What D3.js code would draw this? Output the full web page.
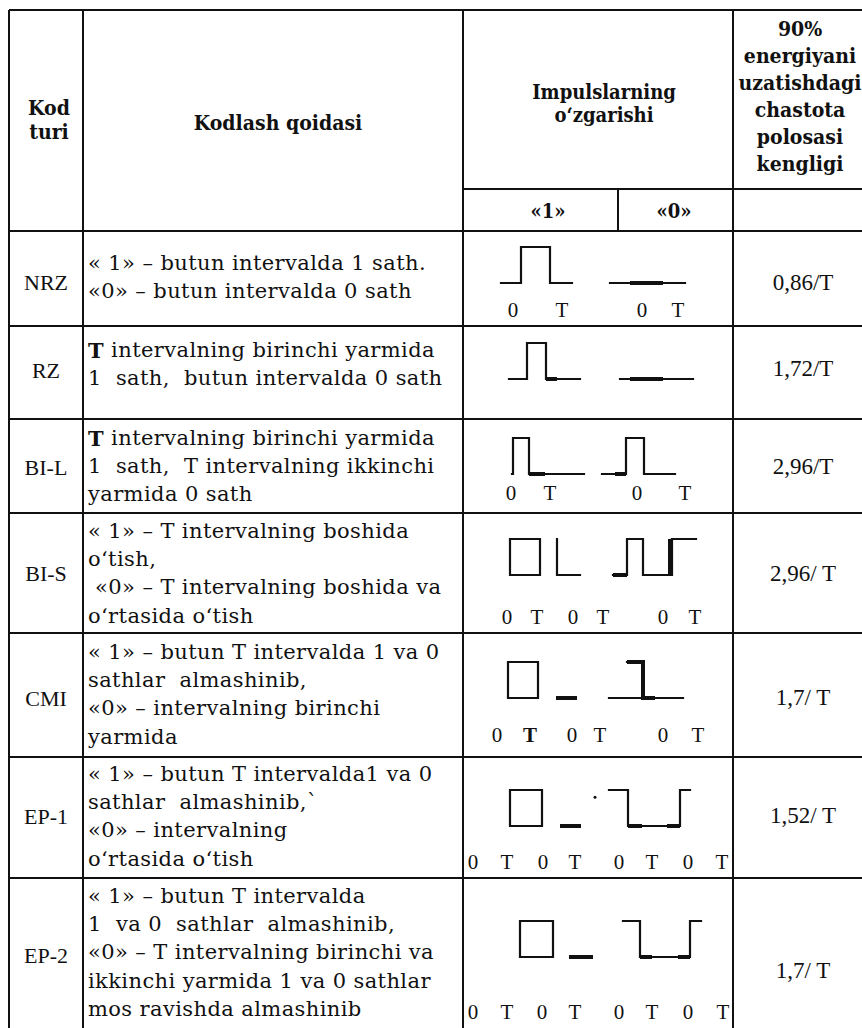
<!DOCTYPE html>
<html><head><meta charset="utf-8">
<script src="https://cdn.jsdelivr.net/npm/d3@7"></script>
<style>body{margin:0;background:#fff}</style>
</head><body>
<svg id="c" width="862" height="1028"></svg>
<script>
// ================= DATA =================
const codeTypes = ["NRZ", "RZ", "BI-L", "BI-S", "CMI", "EP-1", "EP-2"];
const bandwidths = ["0,86/T", "1,72/T", "2,96/T", "2,96/ T", "1,7/ T", "1,52/ T", "1,7/ T"];
const headerKod = ["Kod", "turi"];
const headerRule = ["Kodlash qoidasi"];
const headerImpulse = ["Impulslarning", "o‘zgarishi"];
const headerBand = ["90%", "energiyani", "uzatishdagi", "chastota", "polosasi", "kengligi"];
const bitLabels = ["«1»", "«0»"];
const rules = [
  ["« 1» – butun intervalda 1 sath.", "«0» – butun intervalda 0 sath"],
  ["T intervalning birinchi yarmida", "1  sath,  butun intervalda 0 sath"],
  ["T intervalning birinchi yarmida", "1  sath,  T intervalning ikkinchi", "yarmida 0 sath"],
  ["« 1» – T intervalning boshida", "o‘tish,", " «0» – T intervalning boshida va", "o‘rtasida o‘tish"],
  ["« 1» – butun T intervalda 1 va 0", "sathlar  almashinib,", "«0» – intervalning birinchi", "yarmida"],
  ["« 1» – butun T intervalda1 va 0", "sathlar  almashinib,`", "«0» – intervalning", "o‘rtasida o‘tish"],
  ["« 1» – butun T intervalda", "1  va 0  sathlar  almashinib,", "«0» – T intervalning birinchi va", "ikkinchi yarmida 1 va 0 sathlar", "mos ravishda almashinib"]
];
const boldLeadT = [false, true, true, false, false, false, false];
// waveform polylines: [time, level]
const waveThin = [
  [[[3.8,0],[5.8,0],[5.8,1],[8.7,1],[8.7,0],[10.9,0]], [[14.7,0],[22.2,0]]],
  [[[4.6,0],[6.4,0],[6.4,1],[8.3,1],[8.3,0],[11.7,0]], [[15.7,0],[23.0,0]]],
  [[[4.9,0],[5.0,0],[5.0,1],[6.6,1],[6.6,0],[12.1,0]], [[13.9,0],[16.3,0],[16.3,1],[18.1,1],[18.1,0],[21.2,0]]],
  [[[4.7,0],[4.7,1],[7.7,1],[7.7,0],[4.7,0]], [[9.4,1],[9.4,0],[11.7,0]], [[15.0,0],[16.4,0],[16.4,1],[18.0,1],[18.0,0],[20.9,0],[20.9,1],[23.3,1]]],
  [[[4.5,0],[4.5,1],[7.5,1],[7.5,0],[4.5,0]], [[14.6,0],[22.0,0]], [[16.4,1],[18.0,1],[18.0,0]]],
  [[[4.7,0],[4.7,1],[7.9,1],[7.9,0],[4.7,0]], [[14.6,1],[16.5,1],[16.5,0],[21.7,0],[21.7,1],[22.7,1]]],
  [[[5.7,0],[5.7,1],[9.0,1],[9.0,0],[5.7,0]], [[16.0,1],[17.7,1],[17.7,0],[22.7,0],[22.7,1],[23.8,1]]]
];
const waveThick = [
  [[[16.7,0],[20.0,0]]],
  [[[8.3,0],[9.4,0]], [[16.7,0],[20.0,0]]],
  [[[6.6,0],[8.2,0]], [[15.2,0],[16.3,0]]],
  [[[15.0,0],[16.4,0]], [[20.7,0],[20.7,1]]],
  [[[9.3,0],[11.4,0]], [[16.4,1],[18.0,1],[18.0,0],[19.2,0]]],
  [[[9.7,0],[11.8,0]], [[16.5,0],[17.9,0]], [[20.4,0],[21.7,0]]],
  [[[10.6,0],[13.0,0]], [[17.7,0],[18.9,0]], [[21.5,0],[22.7,0]]]
];
const waveDots = [[], [], [], [], [], [[13.2,0.8]], []];
const tickLabels = [
  [["0",5.0],["T",9.9],["0",17.9],["T",21.5]],
  [],
  [["0",4.8],["T",8.7],["0",17.4],["T",22.2]],
  [["0",4.4],["T",7.4],["0",11.0],["T",14.0],["0",20.0],["T",23.2]],
  [["0",3.4],["T",6.7],["0",10.9],["T",13.7],["0",20.0],["T",23.5]],
  [["0",1.0],["T",4.4],["0",8.0],["T",11.2],["0",15.6],["T",18.9],["0",22.5],["T",25.9]],
  [["0",1.0],["T",4.4],["0",7.9],["T",11.2],["0",15.6],["T",18.9],["0",22.5],["T",26.0]]
];
const boldTicks = [[], [], [], [], [1], [], []];

// ================= LAYOUT =================
const svg = d3.select("#c");
const ink = "#111";
const X = {left: 9, c1: 83, c2: 463, c3: 733, split: 618, right: 862};
const Y = {top: 10, sub: 189, head: 231};
const rowEdges = [231, 326, 419, 513, 633, 757, 878, 1028];
const baselines = [283, 379, 474, 575, 698, 826, 957];
const tickDy = [27, 0, 19, 42, 37, 36, 55];
const ruleY0 = [263, 350, 438, 531, 652, 774, 896];
const codeY = [282, 370, 467, 573, 698, 816, 955];
const bandY = [282, 368, 466, 573, 697, 815, 970];
const amp = 36;

const serif = "'Liberation Serif','Times New Roman',serif";
const headFont = "'DejaVu Serif Condensed','DejaVu Serif',serif";
const bodyFont = "'DejaVu Serif',serif";

const tScale = d3.scaleLinear().domain([0, 27]).range([X.c2, X.c3]);

// ---- grid ----
const g = svg.append("g").attr("stroke", ink).attr("stroke-width", 2).attr("fill", "none");
const hLines = [[X.left, X.right, Y.top], [X.c2, X.right, Y.sub]]
  .concat(rowEdges.slice(0, -1).map(y => [X.left, X.right, y]));
g.selectAll("line.h").data(hLines).join("line").attr("class", "h")
  .attr("x1", d => d[0]).attr("x2", d => d[1]).attr("y1", d => d[2]).attr("y2", d => d[2]);
const vLines = [[X.left, Y.top, 1028], [X.c1, Y.top, 1028], [X.c2, Y.top, 1028], [X.c3, Y.top, 1028], [X.split, Y.sub, Y.head]];
g.selectAll("line.v").data(vLines).join("line").attr("class", "v")
  .attr("x1", d => d[0]).attr("x2", d => d[0]).attr("y1", d => d[1]).attr("y2", d => d[2]);

// ---- header ----
function stack(lines, x, y0, dy, size) {
  svg.append("g").selectAll("text").data(lines).join("text")
    .attr("x", x).attr("y", (d, i) => y0 + i * dy)
    .attr("text-anchor", "middle").attr("dominant-baseline", "central")
    .attr("font-family", headFont).attr("font-size", size).attr("font-weight", "bold")
    .attr("font-stretch", "condensed").attr("fill", ink).text(d => d);
}
stack(headerKod, 49, 107, 24, 21);
stack(headerRule, 278, 122, 0, 21);
stack(headerImpulse, 604, 92, 23, 20);
stack(headerBand, 800, 28, 27, 21);
svg.append("g").selectAll("text").data(bitLabels).join("text")
  .attr("x", (d, i) => i === 0 ? 548 : 674).attr("y", 211)
  .attr("text-anchor", "middle").attr("dominant-baseline", "central")
  .attr("font-family", headFont).attr("font-size", 20).attr("font-weight", "bold")
  .attr("fill", ink).text(d => d);

// ---- rows ----
const rows = svg.append("g").selectAll("g.row").data(codeTypes).join("g").attr("class", "row");

rows.append("text").attr("x", 46).attr("y", (d, i) => codeY[i])
  .attr("text-anchor", "middle").attr("dominant-baseline", "central")
  .attr("font-family", serif).attr("font-size", 22).attr("fill", ink).text(d => d);

rows.append("text").attr("x", 803).attr("y", (d, i) => bandY[i])
  .attr("text-anchor", "middle").attr("dominant-baseline", "central")
  .attr("font-family", serif).attr("font-size", 23).attr("fill", ink)
  .text((d, i) => bandwidths[i]);

rows.each(function (code, i) {
  const row = d3.select(this);
  // rule text
  const txt = row.append("g").selectAll("text").data(rules[i]).join("text")
    .attr("x", 88).attr("y", (d, j) => ruleY0[i] + j * 28.2)
    .attr("dominant-baseline", "central")
    .attr("font-family", bodyFont)
    .attr("font-size", 21).attr("letter-spacing", 0.4).attr("fill", ink)
    .style("white-space", "pre");
  txt.each(function (d, j) {
    const t = d3.select(this);
    if (j === 0 && boldLeadT[i] && d.startsWith("T")) {
      t.append("tspan").attr("font-weight", "bold").text("T");
      t.append("tspan").text(d.slice(1));
    } else {
      t.text(d);
    }
  });

  const yScale = d3.scaleLinear().domain([0, 1]).range([baselines[i], baselines[i] - amp]);
  const line = d3.line().x(p => tScale(p[0])).y(p => yScale(p[1]));
  row.append("g").selectAll("path").data(waveThin[i]).join("path")
    .attr("d", line).attr("fill", "none").attr("stroke", ink).attr("stroke-width", 2.2)
    .attr("stroke-linejoin", "miter").attr("stroke-linecap", "square");
  row.append("g").selectAll("path").data(waveThick[i]).join("path")
    .attr("d", line).attr("fill", "none").attr("stroke", ink).attr("stroke-width", 4)
    .attr("stroke-linecap", "butt");
  row.append("g").selectAll("circle").data(waveDots[i]).join("circle")
    .attr("cx", p => tScale(p[0])).attr("cy", p => yScale(p[1])).attr("r", 1.5).attr("fill", ink);
  row.append("g").selectAll("text").data(tickLabels[i]).join("text")
    .attr("x", p => tScale(p[1])).attr("y", baselines[i] + tickDy[i])
    .attr("text-anchor", "middle").attr("dominant-baseline", "central")
    .attr("font-family", serif).attr("font-size", 21)
    .attr("font-weight", (p, k) => boldTicks[i].includes(k) ? "bold" : "normal")
    .attr("fill", ink).text(p => p[0]);
});
</script>
</body></html>
